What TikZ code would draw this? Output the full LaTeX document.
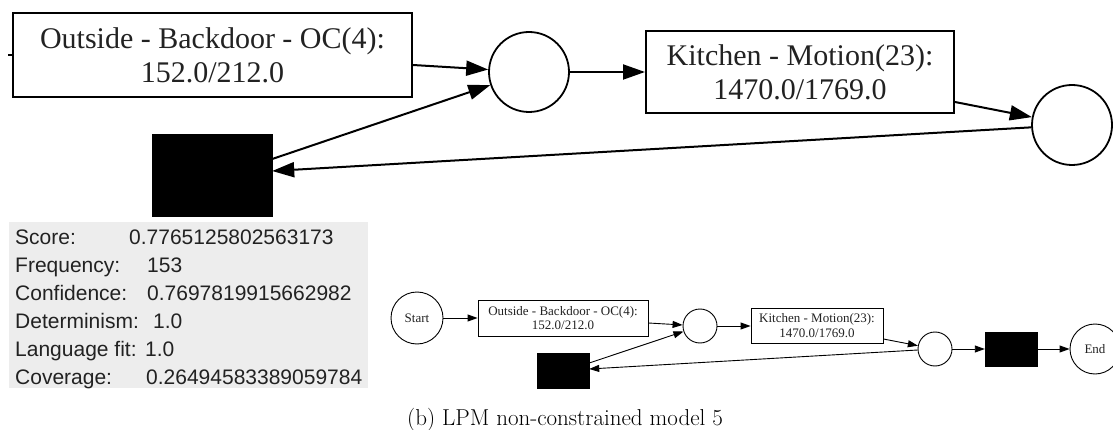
\documentclass[tikz,border=0pt]{standalone}
\usepackage{fontspec}
\newfontfamily\graphfont{Liberation Serif}
\newfontfamily\statfont{Liberation Sans}
\usetikzlibrary{arrows.meta}
\definecolor{panelgray}{HTML}{EDEDED}
\definecolor{inktext}{HTML}{222222}
\tikzset{
  bigbox/.style={draw, line width=2pt, rectangle, inner sep=0pt, align=center,
    font=\graphfont\fontsize{30}{34}\selectfont, text=inktext},
  bigplace/.style={draw, line width=1.8pt, circle, inner sep=0pt, minimum size=80pt},
  bigsilent/.style={fill=black, draw=black, rectangle, inner sep=0pt},
  bigarrow/.style={line width=2pt, -{Triangle[length=22pt, width=15pt]}},
  smallbox/.style={draw, line width=0.9pt, rectangle, inner sep=0pt, align=center,
    font=\graphfont\fontsize{13}{14.5}\selectfont, text=inktext},
  smallplace/.style={draw, line width=0.9pt, circle, inner sep=0pt, align=center,
    font=\graphfont\fontsize{13}{14.5}\selectfont, text=inktext},
  smallsilent/.style={fill=black, draw=black, rectangle, inner sep=0pt},
  smallarrow/.style={line width=0.9pt, -{Triangle[length=10pt, width=7pt]}},
  statlabel/.style={anchor=base west, inner sep=0pt,
    font=\statfont\fontsize{21}{25}\selectfont, text=inktext},
}
\begin{document}
\begin{tikzpicture}[x=1pt, y=-1pt]
\useasboundingbox (0,0) rectangle (1113,430);

% ---- enlarged model ----
\node[bigbox, minimum width=399pt, minimum height=84pt] (b1) at (212.5,55)
  {Outside - Backdoor - OC(4):\\152.0/212.0};
\node[bigplace] (c1) at (529,72) {};
\node[bigbox, minimum width=308pt, minimum height=82pt] (b2) at (800,72)
  {Kitchen - Motion(23):\\1470.0/1769.0};
\node[bigplace] (c2) at (1072,125) {};
\node[bigsilent, minimum width=120pt, minimum height=82pt] (k1) at (212,175) {};
\coordinate (tick) at (8,55);

\draw[line width=2pt] (tick) -- (b1.west);
\draw[bigarrow] ([yshift=-10pt]b1.east) -- (c1);
\draw[bigarrow] ([yshift=16pt]k1.east) -- (c1);
\draw[bigarrow] (c1) -- (b2);
\draw[bigarrow] ([yshift=-30pt]b2.east) -- (c2);
\draw[bigarrow] (c2) -- ([yshift=4pt]k1.east);

% ---- statistics panel ----
\fill[panelgray] (9,222) rectangle (368,388);
\node[statlabel] (l1) at (15,245) {Score:};
\node[statlabel] (v1) at (129,245) {0.7765125802563173};
\node[statlabel] (l2) at (15,272.8) {Frequency:};
\node[statlabel] (v2) at (147,272.8) {153};
\node[statlabel] (l3) at (15,300.6) {Confidence:};
\node[statlabel] (v3) at (147,300.6) {0.7697819915662982};
\node[statlabel] (l4) at (15,328.4) {Determinism:};
\node[statlabel] (v4) at (153,328.4) {1.0};
\node[statlabel] (l5) at (15,356.2) {Language fit:};
\node[statlabel] (v5) at (145,356.2) {1.0};
\node[statlabel] (l6) at (15,384) {Coverage:};
\node[statlabel] (v6) at (146,384) {0.26494583389059784};

% ---- full model ----
\node[smallplace, minimum size=52pt] (start) at (417,318) {Start};
\node[smallbox, minimum width=170pt, minimum height=36pt] (s1) at (563,318)
  {Outside - Backdoor - OC(4):\\152.0/212.0};
\node[smallplace, minimum size=34pt] (sc1) at (700,326) {};
\node[smallsilent, minimum width=52pt, minimum height=35pt] (sk1) at (563,370.5) {};
\node[smallbox, minimum width=132pt, minimum height=35pt] (s2) at (817,325.5)
  {Kitchen - Motion(23):\\1470.0/1769.0};
\node[smallplace, minimum size=34pt] (sc2) at (935,349) {};
\node[smallsilent, minimum width=52pt, minimum height=34pt] (sk2) at (1011,349) {};
\node[smallplace, minimum size=50pt] (end) at (1095,349) {End};

\draw[smallarrow] (start) -- (s1);
\draw[smallarrow] ([yshift=-5pt]s1.east) -- (sc1);
\draw[smallarrow] ([yshift=7.5pt]sk1.east) -- (sc1);
\draw[smallarrow] (sc1) -- (sc1 -| s2.west);
\draw[smallarrow] ([yshift=-13.5pt]s2.east) -- (sc2);
\draw[smallarrow] (sc2) -- ([yshift=1.5pt]sk1.east);
\draw[smallarrow] (sc2) -- (sk2);
\draw[smallarrow] (sk2) -- (end);

% ---- caption ----
\node[anchor=base, inner sep=0pt, font=\fontsize{23}{28}\selectfont] (cap) at (565,425)
  {(b) LPM non-constrained model 5};
\end{tikzpicture}
\end{document}
